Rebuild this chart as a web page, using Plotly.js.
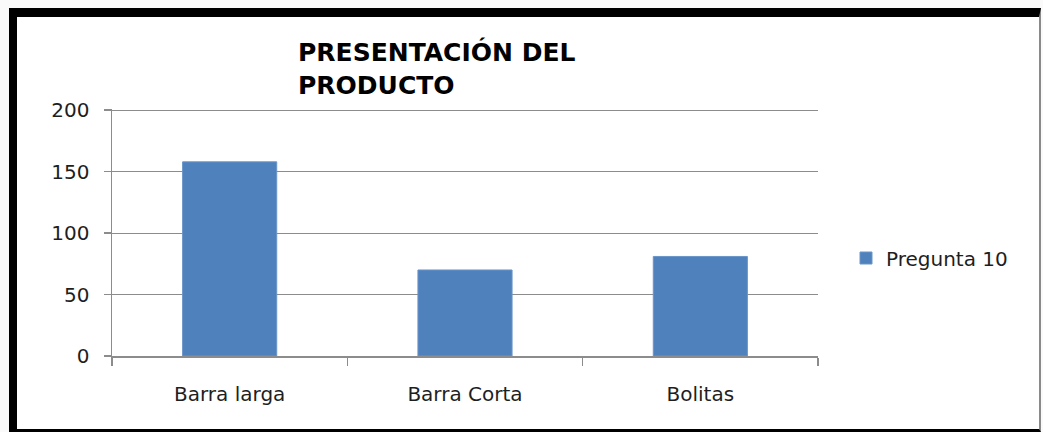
<!DOCTYPE html>
<html>
<head>
<meta charset="utf-8">
<script src="https://cdn.plot.ly/plotly-3.0.1.min.js"></script>
<style>
  html, body { margin: 0; padding: 0; background: #fafafa; width: 1043px; height: 432px; overflow: hidden; }
  #frame { position: absolute; left: 9px; top: 8px; width: 1022px; height: 412px;
           background: #ffffff; border-left: 8px solid #000; border-top: 9px solid #000;
           border-right: 2px solid #8a8a8a; border-bottom: 3px solid #000; }
  #chart { position: absolute; left: 0; top: 0; width: 1043px; height: 432px; }
</style>
</head>
<body>
<div id="frame"></div>
<div id="chart"></div>
<script>
const categories = ["Barra larga", "Barra Corta", "Bolitas"];
const values = [158, 70, 81];
const seriesName = "Pregunta 10";
const yTicks = [0, 50, 100, 150, 200];
const titleText = "PRESENTACIÓN DEL<br>PRODUCTO";

const trace = {
  type: "bar",
  x: categories,
  y: values,
  name: seriesName,
  marker: { color: "#4F81BD", line: { color: "#6b95c8", width: 1 } },
  showlegend: true,
  hoverinfo: "x+y"
};

const layout = {
  width: 1043,
  height: 432,
  margin: { l: 112, r: 225, t: 109, b: 76 },
  paper_bgcolor: "rgba(0,0,0,0)",
  plot_bgcolor: "rgba(0,0,0,0)",
  bargap: 0.6,
  showlegend: true,
  title: {
    text: titleText,
    x: 298 / 1043, xref: "container", xanchor: "left",
    y: 1 - 61 / 432, yref: "container", yanchor: "middle",
    font: { family: "DejaVu Sans", size: 25, color: "#000000", weight: "bold" },
    align: "left"
  },
  font: { family: "DejaVu Sans", size: 20, color: "#1e1e1e" },
  xaxis: {
    type: "category",
    showline: true, linecolor: "#8c8c8c", linewidth: 1.5,
    ticks: "outside", ticklen: 8, tickcolor: "#8c8c8c", tickwidth: 1.5,
    tickson: "boundaries",
    showgrid: false,
    ticklabelstandoff: 19,
    tickfont: { family: "DejaVu Sans", size: 20, color: "#1e1e1e" }
  },
  yaxis: {
    range: [0, 201],
    tickvals: yTicks,
    ticktext: yTicks.map(String),
    showline: true, linecolor: "#8c8c8c", linewidth: 1.5,
    ticks: "outside", ticklen: 7, tickcolor: "#8c8c8c", tickwidth: 1.5,
    showgrid: true, gridcolor: "#8c8c8c", gridwidth: 1.2,
    zeroline: false,
    ticklabelstandoff: 10,
    tickfont: { family: "DejaVu Sans", size: 20, color: "#1e1e1e" }
  },
  legend: {
    x: (846 - 112) / 706, xanchor: "left",
    y: (356 - 258) / 247, yanchor: "middle",
    bgcolor: "rgba(0,0,0,0)",
    font: { family: "DejaVu Sans", size: 20, color: "#1e1e1e" }
  }
};

Plotly.newPlot("chart", [trace], layout, { displayModeBar: false, staticPlot: true });
</script>
</body>
</html>
